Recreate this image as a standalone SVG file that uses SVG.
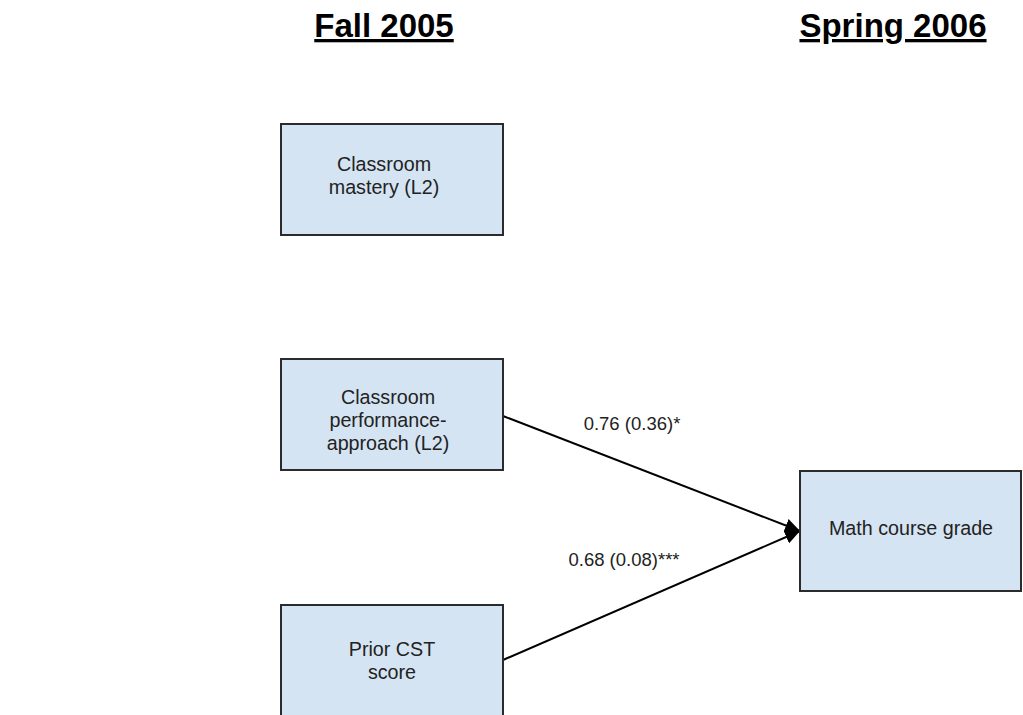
<svg xmlns="http://www.w3.org/2000/svg" width="1023" height="715" viewBox="0 0 1023 715">
<defs>
<style>
.hdr{font-family:"Liberation Sans",Arial,sans-serif;font-weight:bold;font-size:33px;fill:#000;text-anchor:middle;text-decoration:underline}
.box{fill:#d5e4f3;stroke:#2b2b2b;stroke-width:2}
.lbl{font-family:"Liberation Sans",Arial,sans-serif;font-size:19.7px;fill:#222;text-anchor:middle}
.edge{font-family:"Liberation Sans",Arial,sans-serif;font-size:18.5px;fill:#222;text-anchor:middle}
.con{stroke:#000;stroke-width:2;fill:none}
</style>
<marker id="arr" markerUnits="userSpaceOnUse" markerWidth="16" markerHeight="14" refX="15" refY="7" orient="auto">
<path d="M0,0 L15,7 L0,14 z" fill="#000"/>
</marker>
</defs>
<rect width="1023" height="715" fill="#fff"/>
<text class="hdr" x="384" y="37">Fall 2005</text>
<text class="hdr" x="893" y="37">Spring 2006</text>
<g id="connectors">
<line class="con" x1="503" y1="416" x2="800" y2="531" marker-end="url(#arr)"/>
<line class="con" x1="503" y1="660" x2="800" y2="531" marker-end="url(#arr)"/>
<text class="edge" x="632" y="430">0.76 (0.36)*</text>
<text class="edge" x="624" y="566">0.68 (0.08)***</text>
</g>
<g id="mastery">
<rect class="box" x="281" y="124" width="222" height="111"/>
<text class="lbl" x="384" y="171">Classroom</text>
<text class="lbl" x="384" y="194">mastery (L2)</text>
</g>
<g id="performance">
<rect class="box" x="281" y="359" width="222" height="111"/>
<text class="lbl" x="388" y="404">Classroom</text>
<text class="lbl" x="388" y="427">performance-</text>
<text class="lbl" x="388" y="450">approach (L2)</text>
</g>
<g id="priorcst">
<rect class="box" x="281" y="605" width="222" height="115"/>
<text class="lbl" x="392" y="656">Prior CST</text>
<text class="lbl" x="392" y="679">score</text>
</g>
<g id="grade">
<rect class="box" x="800" y="471" width="221" height="120"/>
<text class="lbl" x="911" y="535">Math course grade</text>
</g>
</svg>
